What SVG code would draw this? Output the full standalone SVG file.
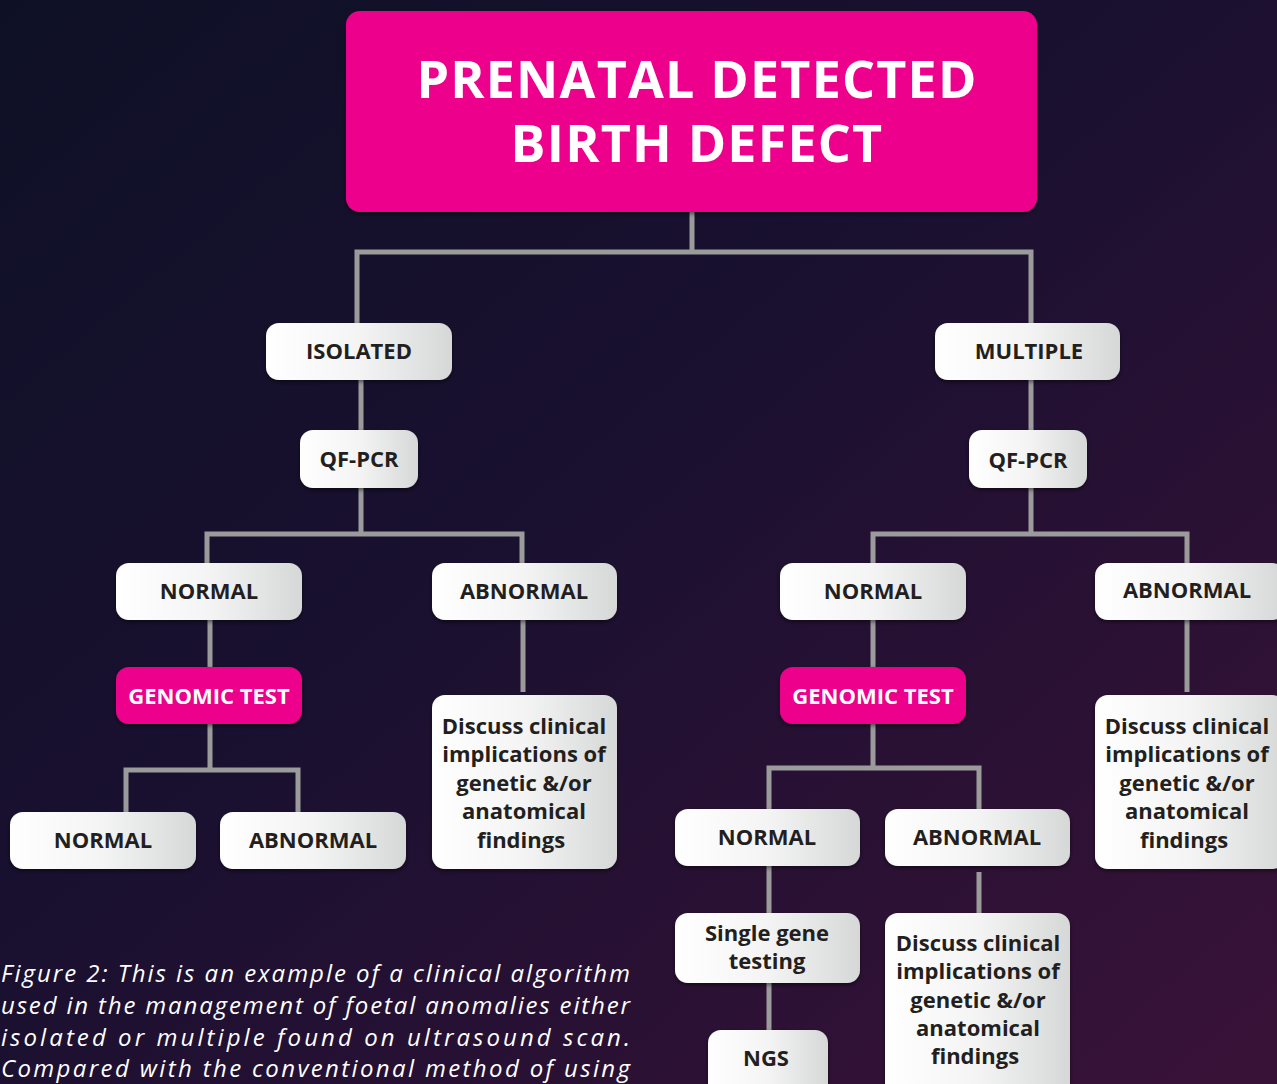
<svg xmlns="http://www.w3.org/2000/svg" width="1277" height="1084" viewBox="0 0 1277 1084">
<defs>
<linearGradient id="bg" x1="0" y1="0" x2="1" y2="1">
<stop offset="0" stop-color="#0e1126"/>
<stop offset="0.45" stop-color="#1a1030"/>
<stop offset="1" stop-color="#3a1238"/>
</linearGradient>
<linearGradient id="wg" x1="0" y1="0" x2="1" y2="0">
<stop offset="0" stop-color="#ffffff"/>
<stop offset="0.5" stop-color="#f4f4f4"/>
<stop offset="1" stop-color="#d6d8d8"/>
</linearGradient>
<filter id="sh" x="-10%" y="-10%" width="120%" height="130%">
<feDropShadow dx="0" dy="2" stdDeviation="2" flood-color="#000" flood-opacity="0.5"/>
</filter>
<style>
.w{fill:url(#wg);filter:url(#sh)}
.p{fill:#ec008c;filter:url(#sh)}
.t{font-family:"Open Sans","Noto Sans",sans-serif;font-weight:700;font-size:22px;fill:#231f20;text-anchor:middle}
.tp{font-family:"Open Sans","Noto Sans",sans-serif;font-weight:700;font-size:22px;fill:#fff;text-anchor:middle}
.ti{font-family:"Open Sans","Noto Sans",sans-serif;font-weight:700;font-size:52px;letter-spacing:1.2px;fill:#fff;text-anchor:middle}
.c{font-family:"Open Sans","Noto Sans",sans-serif;font-style:italic;font-size:24px;fill:#fff}
.ln{fill:none;stroke:#9b9b9b;stroke-width:5}
</style>
</defs>
<rect width="1277" height="1084" fill="url(#bg)"/>
<g id="connectors">
<path class="ln" d="M692 212V252M357 323V252H1031V323"/>
<path class="ln" d="M361 380V430M361 488V534M207 563V534H522V563"/>
<path class="ln" d="M1031 380V430M1031 488V534M873 563V534H1187V563"/>
<path class="ln" d="M210 620V667M210 724V770M126 812V770H298V812"/>
<path class="ln" d="M523 620V692"/>
<path class="ln" d="M873 620V667M873 724V768M769 809V768H979V809"/>
<path class="ln" d="M1187 620V692"/>
<path class="ln" d="M769 866V913M769 983V1030"/>
<path class="ln" d="M979 872V913"/>
</g>
<g id="n-root"><rect class="p" x="346" y="11" width="691" height="201" rx="14"/><text class="ti" x="697" y="98">PRENATAL DETECTED</text><text class="ti" x="697" y="162">BIRTH DEFECT</text></g>
<g id="n-isolated"><rect class="w" x="266" y="323" width="186" height="57" rx="13"/><text class="t" x="359" y="359">ISOLATED</text></g>
<g id="n-multiple"><rect class="w" x="935" y="323" width="185" height="57" rx="13"/><text class="t" x="1029" y="359">MULTIPLE</text></g>
<g id="n-qfpcr-l"><rect class="w" x="300" y="430" width="118" height="58" rx="13"/><text class="t" x="359" y="467">QF-PCR</text></g>
<g id="n-qfpcr-r"><rect class="w" x="969" y="430" width="118" height="58" rx="13"/><text class="t" x="1028" y="468">QF-PCR</text></g>
<g id="n-normal-l"><rect class="w" x="116" y="563" width="186" height="57" rx="13"/><text class="t" x="209" y="599">NORMAL</text></g>
<g id="n-abnormal-l"><rect class="w" x="432" y="563" width="185" height="57" rx="13"/><text class="t" x="524" y="599">ABNORMAL</text></g>
<g id="n-normal-r"><rect class="w" x="780" y="563" width="186" height="57" rx="13"/><text class="t" x="873" y="599">NORMAL</text></g>
<g id="n-abnormal-r"><rect class="w" x="1095" y="563" width="190" height="57" rx="13"/><text class="t" x="1187" y="598">ABNORMAL</text></g>
<g id="n-genomic-l"><rect class="p" x="116" y="667" width="186" height="57" rx="13"/><text class="tp" x="209" y="704">GENOMIC TEST</text></g>
<g id="n-genomic-r"><rect class="p" x="780" y="667" width="186" height="57" rx="13"/><text class="tp" x="873" y="704">GENOMIC TEST</text></g>
<g id="n-discuss-l"><rect class="w" x="432" y="695" width="185" height="174" rx="13"/><text class="t" x="524" y="734">Discuss clinical</text><text class="t" x="524" y="762">implications of</text><text class="t" x="524" y="791">genetic &amp;/or</text><text class="t" x="524" y="819">anatomical</text><text class="t" x="521" y="848">findings</text></g>
<g id="n-discuss-r"><rect class="w" x="1095" y="695" width="190" height="174" rx="13"/><text class="t" x="1187" y="734">Discuss clinical</text><text class="t" x="1187" y="762">implications of</text><text class="t" x="1187" y="791">genetic &amp;/or</text><text class="t" x="1187" y="819">anatomical</text><text class="t" x="1184" y="848">findings</text></g>
<g id="n-normal-ll"><rect class="w" x="10" y="812" width="186" height="57" rx="13"/><text class="t" x="103" y="848">NORMAL</text></g>
<g id="n-abnormal-lr"><rect class="w" x="220" y="812" width="186" height="57" rx="13"/><text class="t" x="313" y="848">ABNORMAL</text></g>
<g id="n-normal-rl"><rect class="w" x="675" y="809" width="185" height="57" rx="13"/><text class="t" x="767" y="845">NORMAL</text></g>
<g id="n-abnormal-rr"><rect class="w" x="885" y="809" width="185" height="57" rx="13"/><text class="t" x="977" y="845">ABNORMAL</text></g>
<g id="n-single"><rect class="w" x="675" y="913" width="185" height="70" rx="13"/><text class="t" x="767" y="941">Single gene</text><text class="t" x="767" y="969">testing</text></g>
<g id="n-ngs"><rect class="w" x="708" y="1030" width="120" height="70" rx="13"/><text class="t" x="766" y="1066">NGS</text></g>
<g id="n-discuss-b"><rect class="w" x="885" y="913" width="185" height="190" rx="13"/><text class="t" x="978" y="951">Discuss clinical</text><text class="t" x="978" y="979">implications of</text><text class="t" x="978" y="1008">genetic &amp;/or</text><text class="t" x="978" y="1036">anatomical</text><text class="t" x="975" y="1064">findings</text></g>
<g id="caption">
<text class="c" x="1" y="982" textLength="629" lengthAdjust="spacing">Figure 2: This is an example of a clinical algorithm</text>
<text class="c" x="1" y="1014" textLength="629" lengthAdjust="spacing">used in the management of foetal anomalies either</text>
<text class="c" x="1" y="1046" textLength="629" lengthAdjust="spacing">isolated or multiple found on ultrasound scan.</text>
<text class="c" x="1" y="1077" textLength="629" lengthAdjust="spacing">Compared with the conventional method of using</text>
</g>
</svg>
